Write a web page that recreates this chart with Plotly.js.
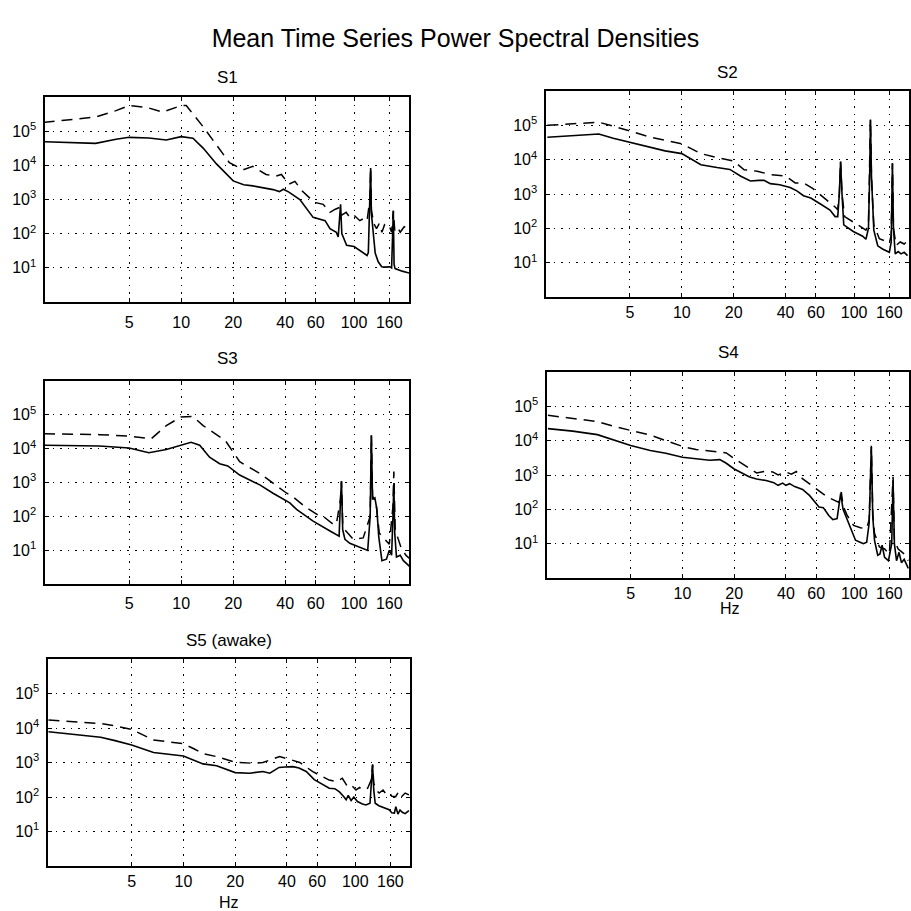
<!DOCTYPE html>
<html>
<head>
<meta charset="utf-8">
<script src="https://cdn.plot.ly/plotly-3.0.1.min.js"></script>
<style>html,body{margin:0;padding:0;background:#fff;}#chart{width:911px;height:911px;}</style>
</head>
<body>
<div id="chart"></div>
<script>
// ---------- data (frequency in Hz, power) ----------
const s1SolidF = [1.6,2.2,3.2,4.2,5,6.5,8.2,10,11.7,13.4,16,20,23,26,30,34,37,39,42,44,48.6,58,68,72.6,79,81,82.5,83.6,85,86.6,90.6,100,108,119,121,123.5,124.8,126,132.6,138,144.6,150,161,165,168,168.8,170.5,172.8,190,211];
const s1Solid  = [4.9e4,4.7e4,4.4e4,5.8e4,6.6e4,6.3e4,5.5e4,6.9e4,6.2e4,3.2e4,1.1e4,3.5e3,2.7e3,2.5e3,2.2e3,1.95e3,1.7e3,2.0e3,1.65e3,1.4e3,1.0e3,3.0e2,2.4e2,1.4e2,1.1e2,80,320,720,100,80,46,42,32,23,28,1000,8300,400,27,15,10.7,10.5,10.7,10,100,470,12.6,9.5,8,6.9];
const s1DashF  = [1.6,3.2,4.2,5,6.3,7.8,10,10.7,13.4,16,19,22.8,26,31,35,38,42,45.5,50,55.5,60,66.3,72.6,78,82.7,85,90,94.5,100,108,114,119,123.5,124.8,126,130,135,140,145,150,154,160,165,168.8,172,178,185,195,205];
const s1Dash   = [1.8e5,2.6e5,4.0e5,5.6e5,5.0e5,3.6e5,5.6e5,5.6e5,1.35e5,4.0e4,1.2e4,7.4e3,9.3e3,5.4e3,4.8e3,5.4e3,2.8e3,3.4e3,1.8e3,1.1e3,8.1e2,7.2e2,4.2e2,5.2e2,5.9e2,3.5e2,4.2e2,3.0e2,3.5e2,2.4e2,2.8e2,2.4e2,1.0e3,8.5e3,5.0e2,2.0e2,1.4e2,2.0e2,1.1e2,1.8e2,1.55e2,1.7e2,1.1e2,4.7e2,1.26e2,1.6e2,1.1e2,1.6e2,1.4e2];

const s2SolidF = [1.66,2.3,3.3,4,5,6.6,8,10,11.5,12.9,16,19,22,25,28,30,32.6,37,42.5,46.5,50.8,56,63.4,72.4,77.5,80.3,82,83.4,85,87,98.8,112,117,121,123,124.3,126,130,137,146,160,164,166.7,169,173,180,187,195,204];
const s2Solid  = [4.5e4,5.0e4,5.6e4,4.2e4,3.2e4,2.2e4,1.8e4,1.5e4,1.0e4,7.1e3,5.9e3,5.2e3,3.3e3,2.4e3,2.5e3,2.5e3,2.0e3,1.86e3,1.55e3,1.23e3,8.9e2,7.6e2,5.2e2,3.4e2,2.2e2,2.2e2,1.0e3,8.7e3,1.0e3,1.26e2,81,59,48,100,3.2e3,1.48e5,3.2e3,89,31,25,20,40,7.9e3,100,18,21,18,20,16];
const s2DashF  = [1.66,2.3,3.3,4,5,6.6,10,12.9,16,20,23,27.4,32.6,40,45.5,50.8,58,72.4,77.5,80.3,82,83.4,85,88,94.6,100.7,112,117,121,123,124.3,126,130,140,150,160,164,166.7,169,175,185,195,204];
const s2Dash   = [1.0e5,1.12e5,1.23e5,9.5e4,6.9e4,4.5e4,2.9e4,1.5e4,1.15e4,9.1e3,5.1e3,4.6e3,3.7e3,3.3e3,2.1e3,2.1e3,1.4e3,5.8e2,4.2e2,3.5e2,1.0e3,8.9e3,1.0e3,2.2e2,1.74e2,1.4e2,1.0e2,89,1.26e2,3.2e3,1.48e5,3.2e3,1.26e2,50,43,38,63,7.9e3,100,32,40,35,43];

const s3SolidF = [1.61,2.5,3.36,5,6.5,8.2,10,11.4,12.8,14.6,16.7,18.6,21.8,28.5,34,40.7,42.5,46.5,58,72.6,82,83.5,84.6,86,88.6,94.5,108,120,124,126,128,132,135.6,139,145,154,160,165,168,170,172,176,185,193,211];
const s3Solid  = [1.26e4,1.23e4,1.2e4,1.05e4,7.6e3,9.5e3,1.29e4,1.55e4,1.26e4,5.6e3,3.6e3,3.1e3,1.66e3,8.5e2,4.8e2,2.75e2,2.5e2,1.6e2,72,37,26,316,1.07e3,40,21,16,12,9.8,100,2.45e4,316,3.5e2,1.6e2,25,4.9,5.4,10,7.1,100,9.5e2,32,6.3,7.1,4.9,3.2];
const s3DashF  = [1.61,3.36,5,6.7,8.2,10,11.7,13.4,18,21.8,28.5,37.2,40.6,44,53,63.6,66.3,76,79,83.5,84.6,86,88.6,99,108,113,124,126,128,134,140,151,160,168,170,173,188,200,211];
const s3Dash   = [2.75e4,2.6e4,2.35e4,1.95e4,4.8e4,8.7e4,8.9e4,4.8e4,1.74e4,4.1e3,1.86e3,6.8e2,4.9e2,3.9e2,1.8e2,100,100,58,58,316,1.1e3,63,40,21,23,23,100,2.5e4,400,250,32,21,15,200,2.1e3,40,11,7,5.5];

const s4SolidF = [1.65,2.3,3.2,4,5,6.5,8,10,12,14.4,16.5,18,20,24.6,27,30.7,34,36,38.3,40,42,45,50,55,62.3,66,71,75,79.4,83.3,86,93,101.6,108,113,118,122,125.6,128,131,136.8,141,145,150,158,165,168,171,176,182,188,195,206];
const s4Solid  = [2.24e4,1.9e4,1.5e4,1.05e4,7.2e3,5.2e3,4.3e3,3.3e3,3.0e3,2.7e3,2.8e3,2.2e3,1.5e3,8.7e2,7.6e2,6.9e2,6.0e2,5.0e2,5.8e2,5.0e2,5.6e2,4.6e2,3.8e2,2.5e2,1.17e2,1.12e2,66,50,54,2.9e2,100,38,12.6,11,10,11,40,6.5e3,63,12.6,4.6,5,9,4,3.2,10,7e2,10,3.2,5.6,2.8,3.5,1.9];
const s4DashF  = [1.65,2.3,3.2,4,5,6.5,8,10,12,16.5,18,20,24.6,27,30.7,33.5,36,40,43,46,49.9,59.6,69.6,81.4,84,86,90.7,99,108.5,118,122,125.6,128,131,140,150,160,168,171,180,195,206];
const s4Dash   = [5.5e4,4.4e4,3.6e4,2.6e4,2.0e4,1.45e4,1.0e4,6.8e3,5.5e3,4.8e3,4.4e3,3.0e3,1.5e3,1.15e3,1.3e3,1.23e3,1.0e3,1.23e3,1.05e3,1.26e3,7.8e2,4.0e2,2.3e2,1.6e2,3.2e2,1.26e2,68,34,29,28,50,7.1e3,80,20,8,7,5,8.9e2,12.6,7,5,3.2];

const s5SolidF = [1.64,2.3,3.3,4,5,6.7,8,10,11.5,13,15.6,18,20,24.3,27,29,31.8,36,39,43.3,47,51.8,57.7,63,70.5,76,80.8,86,88.4,91,94.5,98,102.9,110,115.3,121.7,124,126,128,130.5,137,143.8,150,157.4,163,168.7,172,177,182,187.6,195,205];
const s5Solid  = [7.8e3,6.6e3,5.4e3,4.3e3,3.2e3,1.95e3,1.74e3,1.55e3,1.17e3,9.1e2,8.1e2,6.3e2,5.1e2,4.9e2,5.2e2,5.5e2,4.9e2,7.2e2,7.4e2,7.6e2,6.9e2,5.5e2,3.2e2,2.5e2,1.8e2,1.74e2,1.4e2,100,83,1.12e2,79,100,74,63,59,66,200,8.5e2,160,66,56,52,48,43,35,34,52,32,42,36,33,40];
const s5DashF  = [1.64,2.3,3.3,4,5,6.7,8,10,11.5,13,15.6,18,20,25.4,29,33,36.3,41.5,47.5,56.6,63,70.5,78,84,90.2,95,100.9,106,110.3,118,124,126,128,132,137.6,145,150,157.4,163,171.6,178,185,195,205];
const s5Dash   = [1.7e4,1.5e4,1.35e4,1.15e4,9.1e3,4.5e3,4.0e3,3.5e3,2.5e3,1.8e3,1.48e3,1.2e3,1.02e3,9.5e2,1.0e3,1.26e3,1.48e3,1.23e3,1.0e3,5.4e2,4.2e2,3.1e2,2.8e2,3.5e2,2.0e2,2.2e2,1.6e2,1.9e2,1.6e2,1.8e2,3.2e2,8.9e2,2.5e2,1.6e2,1.3e2,1.6e2,1.26e2,1.4e2,1.05e2,1.02e2,1.4e2,100,1.3e2,1.15e2];

const panelTitles = ["S1","S2","S3","S4","S5 (awake)"];
const xTickVals = [5,10,20,40,60,100,160];
const xTickText = ["5","10","20","40","60","100","160"];
const yTickVals = [1e1,1e2,1e3,1e4,1e5];
const yTickText = ["10<sup>1</sup>","10<sup>2</sup>","10<sup>3</sup>","10<sup>4</sup>","10<sup>5</sup>"];
const mainTitle = "Mean Time Series Power Spectral Densities";
const xLabel = "Hz";

// ---------- layout ----------
const W = 911, H = 911;
// pixel boxes [left, right, top, bottom]
const boxes = [
  [45, 409, 97, 302],
  [546, 909, 91, 297],
  [45, 409, 381, 584],
  [547, 909, 372, 578],
  [48, 410, 659, 866]
];
const xStandoff = [5, 0, 4, 0, 0];
const series = [
  [s1SolidF, s1Solid, s1DashF, s1Dash],
  [s2SolidF, s2Solid, s2DashF, s2Dash],
  [s3SolidF, s3Solid, s3DashF, s3Dash],
  [s4SolidF, s4Solid, s4DashF, s4Dash],
  [s5SolidF, s5Solid, s5DashF, s5Dash]
];
const FONT = "Liberation Sans, Arial, Helvetica, sans-serif";
const traces = [];
const layout = {
  width: W, height: H,
  margin: {l:0, r:0, t:0, b:0},
  paper_bgcolor: "#fff", plot_bgcolor: "#fff",
  showlegend: false,
  font: {family: FONT, color: "#000", size: 15},
  title: {text: mainTitle, x: 0.5, xanchor: "center", y: 1 - 38/H, yanchor: "middle",
          font: {family: FONT, size: 25, color: "#000"}},
  annotations: []
};
const titlePos = [[227, 77],[727, 72],[227, 358],[728, 352],[229, 640]];
for (let i = 0; i < 5; i++) {
  const b = boxes[i];
  const sfx = i === 0 ? "" : String(i + 1);
  const xa = "x" + sfx, ya = "y" + sfx;
  const [sf, sv, df, dv] = series[i];
  traces.push({x: sf, y: sv, xaxis: xa, yaxis: ya, type: "scatter", mode: "lines",
               line: {color: "#000", width: 1.6}, hoverinfo: "skip"});
  traces.push({x: df, y: dv, xaxis: xa, yaxis: ya, type: "scatter", mode: "lines",
               line: {color: "#000", width: 1.5, dash: "11px,7px"}, hoverinfo: "skip"});
  layout["xaxis" + sfx] = {
    type: "log", range: [Math.log10(1.63), Math.log10(208)],
    domain: [b[0]/W, b[1]/W], anchor: ya,
    tickvals: xTickVals, ticktext: xTickText,
    ticks: "inside", ticklen: 4, tickcolor: "#000", tickwidth: 1,
    showline: true, linecolor: "#000", linewidth: 1.6, mirror: "ticks",
    showgrid: true, gridcolor: "#000", gridwidth: 1, griddash: "1.5px,6px",
    zeroline: false, tickfont: {family: FONT, size: 16, color: "#000"},
    ticklabelstandoff: xStandoff[i], fixedrange: true
  };
  layout["yaxis" + sfx] = {
    type: "log", range: [0, 6],
    domain: [1 - b[3]/H, 1 - b[2]/H], anchor: xa,
    tickvals: yTickVals, ticktext: yTickText,
    ticks: "inside", ticklen: 4, tickcolor: "#000", tickwidth: 1,
    showline: true, linecolor: "#000", linewidth: 1.6, mirror: "ticks",
    showgrid: true, gridcolor: "#000", gridwidth: 1, griddash: "1.5px,6px",
    zeroline: false, tickfont: {family: FONT, size: 16, color: "#000"},
    ticklabelstandoff: 4, fixedrange: true
  };
  layout.annotations.push({text: panelTitles[i], xref: "paper", yref: "paper",
    x: titlePos[i][0]/W, y: 1 - titlePos[i][1]/H, xanchor: "center", yanchor: "middle",
    showarrow: false, font: {family: FONT, size: 17, color: "#000"}});
}
layout.annotations.push({text: xLabel, xref: "paper", yref: "paper", x: 730/W, y: 1 - 608/H,
  xanchor: "center", yanchor: "middle", showarrow: false, font: {family: FONT, size: 16, color: "#000"}});
layout.annotations.push({text: xLabel, xref: "paper", yref: "paper", x: 229/W, y: 1 - 902/H,
  xanchor: "center", yanchor: "middle", showarrow: false, font: {family: FONT, size: 16, color: "#000"}});

Plotly.newPlot("chart", traces, layout, {staticPlot: true, displayModeBar: false});
</script>
</body>
</html>
